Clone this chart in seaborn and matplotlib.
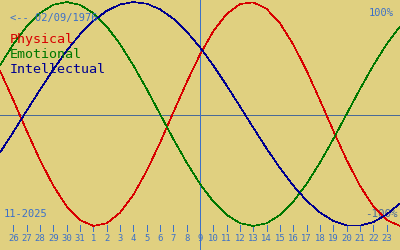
import matplotlib
matplotlib.use("Agg")
import matplotlib.pyplot as plt
import numpy as np
import pandas as pd
import seaborn as sns
from matplotlib.transforms import blended_transform_factory

# ---- data ----
day_labels = [25, 26, 27, 28, 29, 30, 31, 1, 2, 3, 4, 5, 6, 7, 8, 9, 10, 11, 12,
              13, 14, 15, 16, 17, 18, 19, 20, 21, 22, 23, 24]
physical = [0.386, 0.123, -0.150, -0.411, -0.641, -0.825, -0.947, -0.999, -0.976,
            -0.882, -0.722, -0.508, -0.257, 0.014, 0.283, 0.531, 0.740, 0.894,
            0.982, 0.997, 0.938, 0.809, 0.620, 0.386, 0.123, -0.150, -0.411,
            -0.641, -0.825, -0.947, -0.999]
emotional = [0.434, 0.624, 0.782, 0.901, 0.975, 1.000, 0.975, 0.901, 0.782, 0.624,
             0.434, 0.223, 0.000, -0.223, -0.434, -0.624, -0.782, -0.901, -0.975,
             -1.000, -0.975, -0.901, -0.782, -0.624, -0.434, -0.223, 0.000, 0.223,
             0.434, 0.624, 0.782]
intellectual = [-0.345, -0.161, 0.029, 0.217, 0.398, 0.565, 0.711, 0.831, 0.921,
                0.978, 1.000, 0.985, 0.935, 0.851, 0.736, 0.596, 0.433, 0.254,
                0.067, -0.123, -0.309, -0.483, -0.640, -0.774, -0.880, -0.954,
                -0.994, -0.997, -0.965, -0.897, -0.798]
tick_labels = day_labels[1:-1]
today_label = 9
birth_text = "<-- 02/09/1976"
month_text = "11-2025"
series_names = ["Physical", "Emotional", "Intellectual"]

# ---- styling ----
BG = "#e0d080"
RED = "#d80000"
GREEN = "#007800"
NAVY = "#000090"
BLUE = "#3c70c8"
SLATE = "#4a6a98"
LW = 0.6
CURVE_LW = 0.45

sns.set_theme(style="white")
plt.rcParams["font.family"] = ["DejaVu Sans Mono", "DejaVu Sans"]

idx = np.arange(len(day_labels)) - 1  # index -1 .. 29
df = pd.DataFrame({
    "idx": np.tile(idx, 3),
    "value": physical + emotional + intellectual,
    "series": np.repeat(series_names, len(day_labels)),
})

fig = plt.figure(figsize=(4, 2.5), dpi=100)
fig.patch.set_facecolor(BG)
ax = fig.add_axes([0, 0, 1, 1])
ax.set_facecolor(BG)

ax.set_xlim(-1, 29)
ax.set_ylim(-1.2143, 1.0179)

# background reference lines
ax.axhline(-0.009, color=SLATE, lw=LW, zorder=1, antialiased=False)
today_pos = idx[day_labels.index(today_label)]
ax.axvline(today_pos, color=BLUE, lw=LW, zorder=1, antialiased=False)

# -100% label under the curves
ax.text(398 / 400, 1 - 217 / 250, "-100%", transform=ax.transAxes, ha="right",
        va="baseline", fontsize=7.8, color=SLATE, zorder=1)

sns.lineplot(data=df, x="idx", y="value", hue="series",
             palette={"Physical": RED, "Emotional": GREEN, "Intellectual": NAVY},
             lw=CURVE_LW, legend=False, ax=ax, zorder=3, antialiased=False)

# bottom ticks and labels
tick_pos = idx[1:-1]
trans = blended_transform_factory(ax.transData, ax.transAxes)
ax.vlines(tick_pos, 1 - 231 / 250, 1 - 225 / 250, transform=trans, color=BLUE,
          lw=LW, antialiased=False)
for p, lab in zip(tick_pos, tick_labels):
    ax.text(p, 1 - 241 / 250, str(lab), transform=trans, ha="center",
            va="baseline", fontsize=6.4, color=BLUE)

# texts
ax.text(10 / 400, 1 - 21 / 250, birth_text, transform=ax.transAxes, ha="left",
        va="baseline", fontsize=7.5, color=BLUE)
ax.text(394 / 400, 1 - 16 / 250, "100%", transform=ax.transAxes, ha="right",
        va="baseline", fontsize=7.5, color=BLUE)
ax.text(4 / 400, 1 - 217 / 250, month_text, transform=ax.transAxes, ha="left",
        va="baseline", fontsize=7.5, color=BLUE)
for name, col, base in zip(series_names, [RED, GREEN, NAVY], [43, 58, 73]):
    ax.text(10 / 400, 1 - base / 250, name, transform=ax.transAxes, ha="left",
            va="baseline", fontsize=9.6, color=col)

ax.set_xticks([])
ax.set_yticks([])
ax.set_xlabel("")
ax.set_ylabel("")
for s in ax.spines.values():
    s.set_visible(False)

fig.savefig("out.png", dpi=100, facecolor=BG)
